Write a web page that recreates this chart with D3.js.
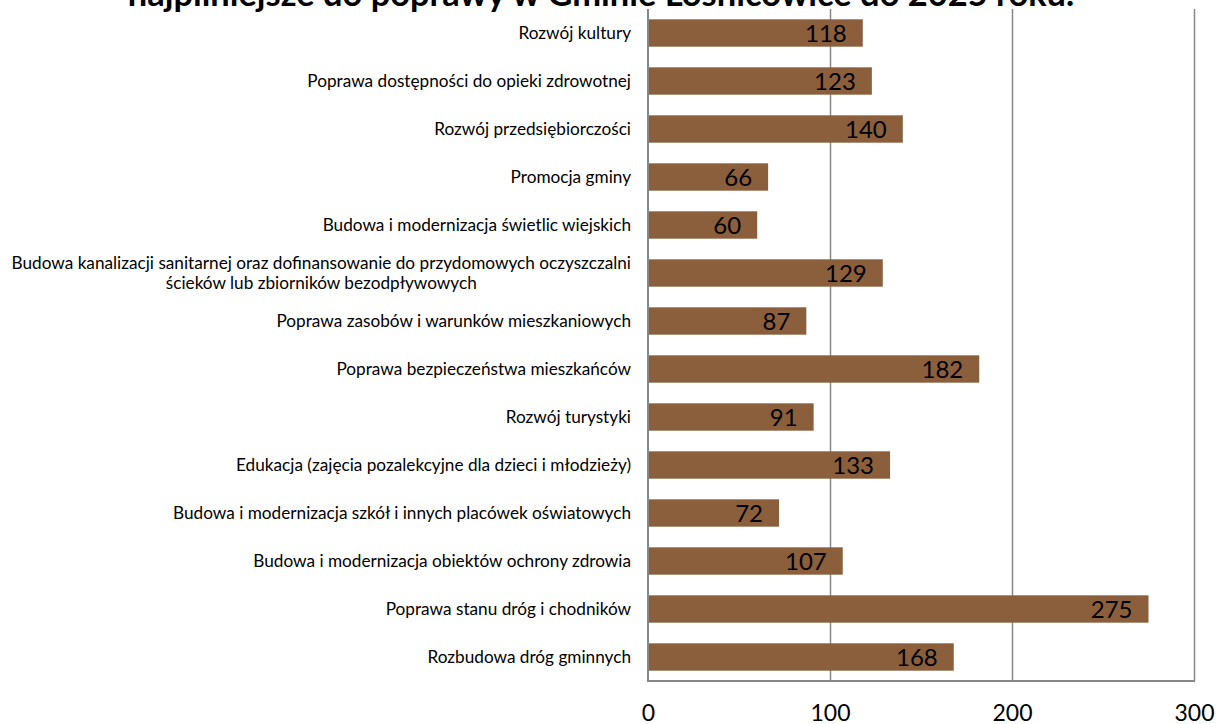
<!DOCTYPE html>
<html lang="pl">
<head>
<meta charset="utf-8">
<script src="https://cdn.jsdelivr.net/npm/d3@7"></script>
<style>
  html, body { margin: 0; padding: 0; background: #fff; }
  svg { display: block; }
  text { font-family: Lato, "Open Sans", "DejaVu Sans", sans-serif; fill: #000; }
</style>
</head>
<body>
<svg id="chart" width="1218" height="724"></svg>
<script>
// Categories, top to bottom; "\n" marks a manual line break in a long label
const categories = [
  "Rozwój kultury",
  "Poprawa dostępności do opieki zdrowotnej",
  "Rozwój przedsiębiorczości",
  "Promocja gminy",
  "Budowa i modernizacja świetlic wiejskich",
  "Budowa kanalizacji sanitarnej oraz dofinansowanie do przydomowych oczyszczalni\nścieków lub zbiorników bezodpływowych",
  "Poprawa zasobów i warunków mieszkaniowych",
  "Poprawa bezpieczeństwa mieszkańców",
  "Rozwój turystyki",
  "Edukacja (zajęcia pozalekcyjne dla dzieci i młodzieży)",
  "Budowa i modernizacja szkół i innych placówek oświatowych",
  "Budowa i modernizacja obiektów ochrony zdrowia",
  "Poprawa stanu dróg i chodników",
  "Rozbudowa dróg gminnych"
];
const votes = [118, 123, 140, 66, 60, 129, 87, 182, 91, 133, 72, 107, 275, 168];
const xTicks = [0, 100, 200, 300];
const titleText = "najpilniejsze do poprawy w Gminie Łośnicowice do 2025 roku.";

const svg = d3.select("#chart");
const plot = { left: 648, right: 1194, top: 9, bottom: 681 };
const barColor = "#8B5E3C";
const gridColor = "#878787";

const x = d3.scaleLinear().domain([0, 300]).range([plot.left, plot.right]);
const y = d3.scaleBand().domain(categories).range([plot.top, plot.bottom])
  .paddingInner(0.43).paddingOuter(0.215);

// vertical gridlines
svg.append("g")
  .attr("transform", `translate(0,${plot.bottom})`)
  .call(d3.axisBottom(x).tickValues(xTicks.slice(1)).tickSize(-(plot.bottom - plot.top)).tickFormat(""))
  .call(g => g.select(".domain").remove())
  .call(g => g.selectAll("line").attr("stroke", gridColor).attr("stroke-width", 1.5));

// bars
svg.append("g").selectAll("rect")
  .data(categories)
  .join("rect")
  .attr("x", x(0))
  .attr("y", d => y(d))
  .attr("width", (d, i) => x(votes[i]) - x(0))
  .attr("height", y.bandwidth())
  .attr("fill", barColor);

// axis lines
svg.append("line")
  .attr("x1", x(0)).attr("x2", x(0)).attr("y1", plot.top).attr("y2", plot.bottom + 1)
  .attr("stroke", gridColor).attr("stroke-width", 2);
svg.append("line")
  .attr("x1", x(0) - 1).attr("x2", x(300) + 1).attr("y1", plot.bottom).attr("y2", plot.bottom)
  .attr("stroke", gridColor).attr("stroke-width", 2);

// x tick labels
svg.append("g")
  .attr("transform", `translate(0,${plot.bottom})`)
  .call(d3.axisBottom(x).tickValues(xTicks).tickSize(0).tickPadding(0).tickFormat(d3.format("d")))
  .call(g => g.select(".domain").remove())
  .call(g => g.selectAll("text")
    .attr("y", 32).attr("dy", "0.35em")
    .attr("font-size", 23).attr("font-family", "Lato, sans-serif").attr("fill", "#000"));

// category labels
const labelRight = plot.left - 17;
const labels = svg.append("g").selectAll("text")
  .data(categories)
  .join("text")
  .attr("font-size", 17.2)
  .attr("text-anchor", "middle");
labels.each(function(d) {
  const t = d3.select(this);
  const lines = d.split("\n");
  const cy = y(d) + y.bandwidth() / 2;
  const lh = 20;
  const tspans = lines.map((ln, k) => t.append("tspan")
    .attr("y", cy + (k - (lines.length - 1) / 2) * lh)
    .attr("dy", "0.36em")
    .text(ln));
  const maxW = d3.max(tspans, s => s.node().getComputedTextLength());
  tspans.forEach(s => s.attr("x", labelRight - maxW / 2));
});

// value labels inside bar ends
svg.append("g").selectAll("text")
  .data(categories)
  .join("text")
  .attr("x", (d, i) => x(votes[i]) - 16)
  .attr("y", d => y(d) + y.bandwidth() / 2)
  .attr("dy", "0.36em")
  .attr("text-anchor", "end")
  .attr("font-size", 24)
  .text((d, i) => votes[i]);

// title (upper part falls outside the canvas)
const title = svg.append("text")
  .attr("x", 601)
  .attr("y", 6)
  .attr("text-anchor", "middle")
  .attr("font-weight", "bold")
  .attr("font-size", 26)
  .text(titleText);
const tw = title.node().getComputedTextLength();
title.attr("font-size", 26 * 947 / tw);
</script>
</body>
</html>
